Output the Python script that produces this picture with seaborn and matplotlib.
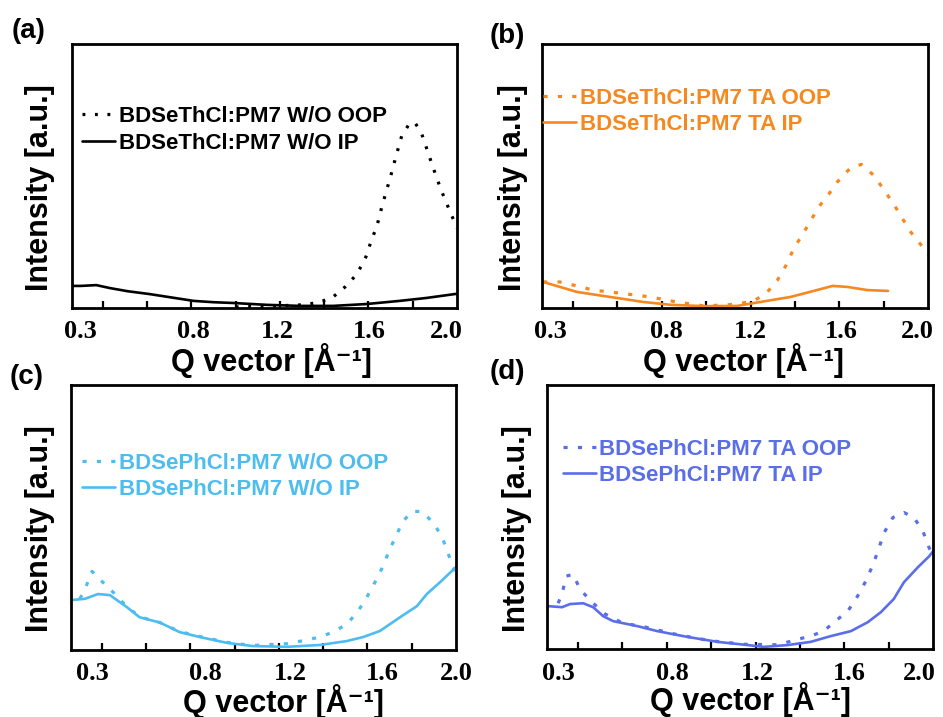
import matplotlib
matplotlib.use("Agg")
import matplotlib.pyplot as plt
import seaborn as sns
from matplotlib.ticker import FixedLocator

# ---------------- data (GIWAXS line cuts, arbitrary intensity) ----------------
tick_labels = ["0.3", "0.8", "1.2", "1.6", "2.0"]

# (a) BDSeThCl:PM7 as-cast
q_a_oop = [1.00, 1.15, 1.30, 1.36, 1.394, 1.44, 1.494, 1.548, 1.588, 1.615, 1.638, 1.66,
           1.683, 1.706, 1.72, 1.75, 1.787, 1.81, 1.837, 1.864, 1.89, 1.927, 1.96, 1.99, 2.0]
i_a_oop = [0.0, 0.003, 0.008, 0.015, 0.023, 0.038, 0.076, 0.125, 0.19, 0.258, 0.307, 0.38,
           0.447, 0.515, 0.56, 0.65, 0.70, 0.70, 0.667, 0.60, 0.535, 0.447, 0.38, 0.32, 0.30]
q_a_ip = [0.265, 0.30, 0.37, 0.43, 0.51, 0.61, 0.71, 0.81, 0.90, 0.99, 1.14, 1.29, 1.44,
          1.59, 1.74, 1.86, 1.99, 2.0]
i_a_ip = [0.08, 0.08, 0.083, 0.072, 0.06, 0.049, 0.036, 0.023, 0.018, 0.015, 0.008, 0.004,
          0.004, 0.011, 0.023, 0.034, 0.049, 0.05]

# (b) BDSeThCl:PM7 thermally annealed
q_b_oop = [0.265, 0.34, 0.418, 0.49, 0.567, 0.644, 0.75, 0.84, 0.90, 0.99, 1.09, 1.14, 1.213,
           1.268, 1.32, 1.358, 1.394, 1.435, 1.47, 1.507, 1.552, 1.593, 1.652, 1.70, 1.756,
           1.80, 1.846, 1.887, 1.923, 1.977, 2.0]
i_b_oop = [0.095, 0.095, 0.08, 0.064, 0.057, 0.049, 0.038, 0.023, 0.015, 0.004, 0.008, 0.011,
           0.023, 0.049, 0.10, 0.155, 0.22, 0.277, 0.326, 0.38, 0.428, 0.477, 0.53, 0.542,
           0.50, 0.447, 0.39, 0.333, 0.284, 0.227, 0.20]
q_b_ip = [0.265, 0.418, 0.567, 0.716, 0.84, 0.99, 1.14, 1.245, 1.38, 1.485, 1.57, 1.638,
          1.728, 1.82]
i_b_ip = [0.095, 0.057, 0.038, 0.019, 0.008, 0.003, 0.004, 0.019, 0.038, 0.061, 0.08, 0.076,
          0.064, 0.061]

# (c) BDSePhCl:PM7 as-cast
q_c_oop = [0.30, 0.323, 0.355, 0.39, 0.45, 0.513, 0.57, 0.662, 0.75, 0.843, 0.965, 1.08,
           1.236, 1.30, 1.385, 1.444, 1.507, 1.557, 1.597, 1.634, 1.67, 1.70, 1.733, 1.756,
           1.80, 1.846, 1.896, 1.936, 1.963, 1.986, 2.0]
i_c_oop = [0.19, 0.226, 0.294, 0.264, 0.215, 0.16, 0.122, 0.10, 0.066, 0.047, 0.025, 0.013,
           0.02, 0.03, 0.045, 0.064, 0.094, 0.143, 0.196, 0.253, 0.313, 0.377, 0.434, 0.479,
           0.521, 0.521, 0.479, 0.426, 0.366, 0.309, 0.29]
q_c_ip = [0.26, 0.323, 0.382, 0.436, 0.513, 0.57, 0.662, 0.75, 0.843, 0.965, 1.08, 1.236,
          1.385, 1.507, 1.58, 1.656, 1.747, 1.823, 1.868, 1.928, 1.995, 2.0]
i_c_ip = [0.185, 0.19, 0.208, 0.204, 0.158, 0.12, 0.10, 0.064, 0.045, 0.023, 0.011, 0.008,
          0.015, 0.03, 0.045, 0.068, 0.12, 0.162, 0.208, 0.253, 0.306, 0.31]

# (d) BDSePhCl:PM7 thermally annealed
q_d_oop = [0.31, 0.328, 0.346, 0.378, 0.409, 0.463, 0.522, 0.60, 0.70, 0.85, 1.0, 1.15, 1.30,
           1.40, 1.448, 1.507, 1.56, 1.616, 1.66, 1.697, 1.73, 1.751, 1.78, 1.819, 1.869,
           1.914, 1.955, 1.982, 2.0]
i_d_oop = [0.17, 0.205, 0.273, 0.28, 0.223, 0.174, 0.129, 0.095, 0.08, 0.05, 0.027, 0.014,
           0.012, 0.035, 0.045, 0.064, 0.102, 0.14, 0.197, 0.254, 0.318, 0.367, 0.439, 0.496,
           0.515, 0.496, 0.443, 0.382, 0.35]
q_d_ip = [0.265, 0.328, 0.364, 0.423, 0.468, 0.513, 0.558, 0.667, 0.757, 0.893, 1.03, 1.164,
          1.236, 1.345, 1.448, 1.539, 1.63, 1.706, 1.765, 1.823, 1.869, 1.932, 1.982, 2.0]
i_d_ip = [0.159, 0.155, 0.167, 0.170, 0.155, 0.121, 0.102, 0.083, 0.064, 0.042, 0.023, 0.011,
          0.004, 0.011, 0.023, 0.045, 0.064, 0.098, 0.136, 0.186, 0.25, 0.307, 0.348, 0.367]

labels_a = ["BDSeThCl:PM7 W/O OOP", "BDSeThCl:PM7 W/O IP"]
labels_b = ["BDSeThCl:PM7 TA OOP", "BDSeThCl:PM7 TA IP"]
labels_c = ["BDSePhCl:PM7 W/O OOP", "BDSePhCl:PM7 W/O IP"]
labels_d = ["BDSePhCl:PM7 TA OOP", "BDSePhCl:PM7 TA IP"]

x_title = "Q vector [Å⁻¹]"
y_title = "Intensity [a.u.]"

# ---------------- styling ----------------
sns.set_theme(style="white")
plt.rcParams["font.family"] = ["Liberation Sans", "DejaVu Sans"]
plt.rcParams["font.weight"] = "bold"
plt.rcParams["text.color"] = "black"
plt.rcParams["axes.labelcolor"] = "black"
plt.rcParams["xtick.color"] = "black"

W, H = 943, 717
fig = plt.figure(figsize=(W / 100, H / 100), dpi=100)


def rect(l, t, r, b):
    return [l / W, 1 - b / H, (r - l) / W, (b - t) / H]


panels = [
    dict(tag="(a)", tagxy=(12, 31), rect=rect(72, 44, 457, 308), color="#000000",
         oop=(q_a_oop, i_a_oop), ip=(q_a_ip, i_a_ip), labels=labels_a, dash=(0, (0.9, 3.0)),
         leg=(0.026, 0.765), xl=(0.519, -0.200), yl=(-0.083, 0.455),
         tickpos=[0.30, 0.81, 1.189, 1.602, 1.95]),
    dict(tag="(b)", tagxy=(490, 36), rect=rect(542, 44, 928, 308), color="#F5891F",
         oop=(q_b_oop, i_b_oop), ip=(q_b_ip, i_b_ip), labels=labels_b, dash=(0, (1.3, 3.2)),
         leg=(0.003, 0.835), xl=(0.523, -0.200), yl=(-0.075, 0.455),
         tickpos=[0.30, 0.82, 1.20, 1.61, 1.95]),
    dict(tag="(c)", tagxy=(10, 377), rect=rect(71, 385, 456, 650), color="#4DBDF0",
         oop=(q_c_oop, i_c_oop), ip=(q_c_ip, i_c_ip), labels=labels_c, dash=(0, (1.3, 3.2)),
         leg=(0.029, 0.745), xl=(0.551, -0.193), yl=(-0.081, 0.457),
         tickpos=[0.355, 0.866, 1.25, 1.665, 2.0]),
    dict(tag="(d)", tagxy=(490, 372), rect=rect(547, 385, 933, 649), color="#5A6EEA",
         oop=(q_d_oop, i_d_oop), ip=(q_d_ip, i_d_ip), labels=labels_d, dash=(0, (1.3, 3.2)),
         leg=(0.041, 0.797), xl=(0.526, -0.193), yl=(-0.078, 0.455),
         tickpos=[0.31, 0.825, 1.21, 1.625, 1.94]),
]

minor_ticks = [0.4, 0.6, 0.8, 1.0, 1.2, 1.4, 1.6, 1.8]

for p in panels:
    ax = fig.add_axes(p["rect"])
    sns.lineplot(x=p["oop"][0], y=p["oop"][1], ax=ax, color=p["color"], lw=2.3,
                 linestyle=p["dash"], label=p["labels"][0], estimator=None)
    sns.lineplot(x=p["ip"][0], y=p["ip"][1], ax=ax, color=p["color"], lw=1.9,
                 linestyle="-", label=p["labels"][1], estimator=None)

    ax.set_xlim(0.26, 2.0)
    ax.set_ylim(-0.004, 1.0)
    ax.set_yticks([])

    ax.xaxis.remove_overlapping_locs = False
    ax.set_xticks(p["tickpos"], labels=tick_labels)
    ax.xaxis.set_minor_locator(FixedLocator(minor_ticks))
    ax.tick_params(axis="x", which="major", length=0, pad=9, labelsize=19,
                   labelcolor="black")
    ax.tick_params(axis="x", which="minor", direction="in", length=5, width=1.6,
                   bottom=True, color="black")
    for lbl in ax.get_xticklabels():
        lbl.set_fontfamily(["Liberation Serif", "DejaVu Serif"])
        lbl.set_fontweight("bold")

    for s in ax.spines.values():
        s.set_color("black")
        s.set_linewidth(2.0)

    ax.set_xlabel(x_title, fontsize=22, fontweight="bold", va="center", color="black")
    ax.xaxis.set_label_coords(*p["xl"])
    ax.set_ylabel(y_title, fontsize=22, fontweight="bold", va="center", color="black")
    ax.yaxis.set_label_coords(*p["yl"])

    ax.legend(loc="upper left", bbox_to_anchor=p["leg"], frameon=False,
              prop=dict(size=16, weight="bold"), handlelength=1.5, handletextpad=0.15,
              labelspacing=0.25, borderpad=0, borderaxespad=0, labelcolor="linecolor")

    fig.text(p["tagxy"][0] / W, 1 - p["tagxy"][1] / H, p["tag"], fontsize=20,
             fontweight="bold", ha="left", va="center", color="black")

fig.savefig("out.png", dpi=100)
